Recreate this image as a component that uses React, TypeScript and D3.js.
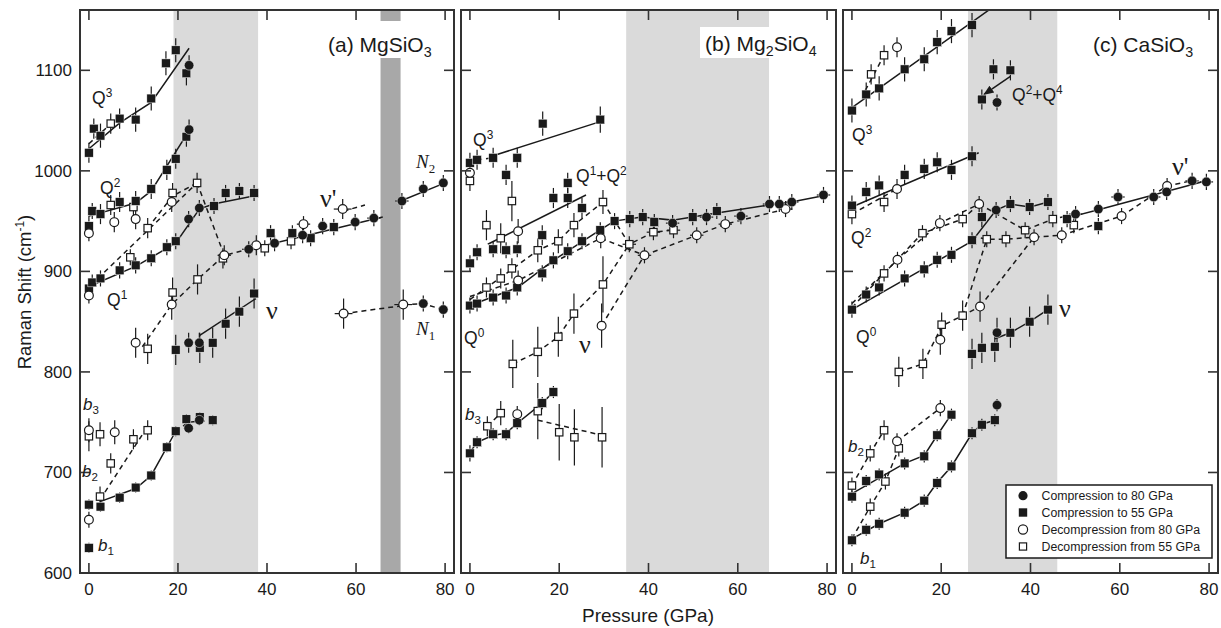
import React from 'react';
import * as d3 from 'd3';

type Pt = number[]; // [pressure, shift, yErr, xErr?]
type Line = number[][];

// ---------- Panel (a) MgSiO3 ----------
const aCompSq: Pt[] = [
  [0, 1018, 10], [1.1, 1042, 10], [2.6, 1035, 12], [6.9, 1052, 10], [10.5, 1051, 12], [14, 1072, 12], [17.3, 1107, 12], [19.5, 1120, 12], [21.9, 1097, 12],
  [0, 945, 10], [0.75, 960, 8], [2.6, 957, 10], [6.9, 969, 10], [10.5, 970, 10], [14, 982, 10], [17.5, 1001, 10], [19.5, 1012, 10], [21.9, 1034, 10],
  [0, 883, 8], [0.75, 889, 8], [2.6, 893, 8], [6.9, 901, 8], [10.5, 906, 8], [14, 913, 8], [17.5, 924, 8], [19.5, 930, 8], [28.1, 965, 8], [30.7, 978, 8], [33.8, 980, 8], [37.1, 978, 8],
  [40.8, 938, 8], [45.7, 938, 8], [49.8, 933, 8], [55, 944, 8],
  [19.5, 822, 15], [24.9, 824, 15], [27.8, 829, 15], [30.7, 848, 15], [33.8, 860, 15], [37.1, 878, 15],
  [0, 668, 5], [2.6, 666, 5], [6.9, 675, 5], [10.5, 685, 5], [14, 697, 5], [17.5, 725, 5], [19.5, 741, 5], [21.9, 753, 5], [24.9, 755, 5], [27.8, 752, 5],
  [0, 625, 5],
];
const aCompCirc: Pt[] = [
  [22.5, 1105, 10], [22.5, 1041, 10], [22.4, 952, 8], [24.8, 963, 8], [35.9, 922, 8, 1.5], [41.7, 928, 8], [48, 936, 8], [52.5, 945, 8],
  [59.8, 949, 8], [64, 953, 8, 1.5], [70.3, 970, 8, 1.5], [75.1, 982, 8], [79.6, 988, 8], [75.1, 868, 8], [79.6, 862, 8],
  [22.4, 829, 10], [24.8, 829, 10], [22.4, 744, 5], [24.8, 752, 5],
];
const aDecCirc: Pt[] = [
  [0, 938, 8], [5.7, 949, 10], [10.5, 952, 10], [18.6, 969, 10], [0, 876, 8], [18.6, 867, 15], [30.4, 916, 10, 1.5], [37.6, 926, 10, 1.5],
  [48.2, 947, 8, 1.5], [57, 962, 10, 2], [57.2, 858, 15, 2], [70.6, 867, 15, 2], [10.5, 829, 15], [0, 742, 12], [5.8, 740, 12], [0, 653, 8],
];
const aDecSq: Pt[] = [
  [4.9, 1047, 10], [4.9, 966, 10], [10, 964, 10], [13.2, 943, 10], [18.8, 978, 10], [24.3, 988, 10], [30.1, 913, 10], [9.3, 914, 8],
  [18.8, 879, 15], [24.4, 892, 15], [39.5, 923, 8], [45.4, 930, 8], [13.2, 823, 15],
  [0, 736, 15], [2.5, 738, 12], [10, 733, 10], [13.2, 742, 10], [2.5, 676, 10], [4.9, 709, 10],
];
const aSolid: Line[] = [
  [[0, 1022], [7, 1048], [14, 1068], [22.5, 1122]],
  [[0, 955], [10.5, 968], [14, 980], [22.5, 1040]],
  [[0, 885], [10.5, 905], [19.5, 928], [24.8, 962]],
  [[24.8, 962], [28, 967], [38, 976]],
  [[24.8, 836], [37.5, 873]],
  [[35, 921], [50, 937], [66, 954]],
  [[70, 970], [80, 988]],
  [[2.5, 671], [10.5, 684], [14, 697], [19.5, 741]],
];
const aDashed: Line[] = [
  [[2, 893], [24.3, 988]],
  [[13.2, 943], [18.8, 975], [24.3, 988]],
  [[24.3, 988], [30.4, 916], [35.9, 922]],
  [[12, 825], [18.6, 867], [24.4, 892], [30.4, 916]],
  [[57.2, 960], [62, 966]],
  [[57.2, 858], [70.6, 866]],
  [[70.6, 867], [75.1, 867.8], [79.6, 862]],
  [[2.5, 673], [12.5, 741]],
  [[19.5, 741], [22.4, 750], [28, 752]],
  [[0, 1027], [5, 1047]],
];

// ---------- Panel (b) Mg2SiO4 ----------
const bCompSq: Pt[] = [
  [0, 1008, 10], [1.6, 1011, 10], [5.2, 1013, 10], [10.6, 1013, 10], [8.1, 996, 10], [16.3, 1047, 12], [29.2, 1051, 13],
  [18.7, 973, 10], [21.9, 988, 10], [21.9, 973, 10], [25.1, 963, 10], [16.2, 936, 10], [10.6, 922, 8], [8.1, 921, 8], [5.2, 922, 8], [1.6, 919, 8], [0, 908, 8],
  [0, 866, 8], [1.6, 868, 8], [5.2, 874, 8], [8.1, 876, 8], [10.6, 884, 8], [16.2, 898, 8], [18.7, 911, 8], [21.9, 920, 8], [25.1, 930, 8], [29.2, 941, 8],
  [32.4, 950, 8], [35.8, 952, 8], [38.7, 954, 8], [41.3, 949, 8], [49.9, 954, 8], [55.3, 960, 8],
  [0, 719, 8], [1.6, 730, 6], [5.2, 738, 6], [8.1, 738, 6], [10.6, 749, 6], [16.2, 769, 6], [18.7, 780, 6],
];
const bCompCirc: Pt[] = [
  [45.4, 948, 8, 1.5], [53, 954, 8, 1.5], [60.7, 955, 8, 1.5], [67.1, 967, 8, 1.5], [69.3, 967, 8], [72.1, 969, 8, 1.5], [79.2, 976, 8, 1.5],
];
const bDecCirc: Pt[] = [
  [0, 998, 8], [10.8, 940, 12], [10.8, 891, 10], [29.3, 933, 10], [39.1, 916, 8, 1.5], [50.8, 936, 8, 1.5], [57.2, 947, 8, 1.5],
  [70.7, 962, 8, 1.5], [29.5, 846, 22], [10.6, 758, 8],
];
const bDecSq: Pt[] = [
  [0, 990, 10], [3.7, 946, 15], [6.9, 933, 15], [9.4, 970, 20], [3.7, 884, 10], [6.9, 893, 10], [9.4, 903, 10], [15.2, 921, 12],
  [19.8, 930, 12], [23.3, 946, 12], [29.8, 969, 12], [35.7, 927, 8, 1.5], [41.1, 939, 8, 1.5], [45.6, 941, 8, 1.5],
  [29.8, 887, 28], [23.3, 858, 20], [19.8, 835, 20], [15.2, 820, 25], [9.6, 808, 24],
  [3.9, 746, 10], [6.9, 759, 12], [15.2, 761, 28], [20, 740, 28], [23.4, 735, 28], [29.6, 735, 30],
];
const bSolid: Line[] = [
  [[5.2, 1015], [29.2, 1049]],
  [[4, 927], [26, 976]],
  [[0, 866], [10.7, 884], [18.7, 911], [29.1, 941], [32.3, 950], [38.5, 954], [45.4, 951], [55.3, 958], [67, 966], [72, 969], [80, 976]],
  [[0, 720], [1.6, 730], [5.2, 737], [8.1, 739], [10.6, 749], [16.2, 769], [18.7, 780]],
];
const bDashed: Line[] = [
  [[0, 872], [9.4, 902], [15.2, 921], [19.8, 930], [23.3, 946], [29.8, 969]],
  [[29.8, 969], [35.7, 927], [41.1, 939], [45.6, 941]],
  [[0, 875], [10.8, 891], [29.3, 933], [39.1, 916]],
  [[39.1, 916], [50.8, 936], [57.2, 947], [70.7, 962]],
  [[9.6, 808], [15.2, 820], [19.8, 835], [23.3, 858], [29.8, 887], [35.7, 927]],
  [[29.5, 846], [39.1, 916]],
  [[15.2, 752], [29.6, 737]],
  [[3.9, 746], [6.9, 759]],
  [[1.6, 1011], [5.2, 1013]],
];

// ---------- Panel (c) CaSiO3 ----------
const cCompSq: Pt[] = [
  [0, 1060, 12], [3.2, 1076, 12], [6.1, 1082, 12], [11.8, 1101, 12], [16.2, 1111, 12], [19.1, 1128, 12], [22.3, 1139, 12], [26.9, 1145, 12],
  [31.7, 1101, 10], [35.5, 1100, 10], [29.1, 1071, 10],
  [0, 965.5, 10], [3.2, 979, 10], [6.1, 985.5, 10], [11.8, 996, 10], [16.2, 1002, 10], [19.1, 1008.5, 10], [22.3, 1001, 10], [26.9, 1014.5, 10],
  [0, 862, 8], [3.2, 877, 8], [6.1, 884, 8], [11.8, 893, 8], [16.2, 902, 8], [19.1, 911.5, 8], [22.3, 916.5, 8], [26.9, 931, 8], [29.1, 954, 10],
  [35.5, 967, 8], [39.8, 964, 8], [43.9, 969, 8], [48.2, 952, 8], [55.2, 945, 8],
  [26.9, 818, 15], [29.1, 824, 15], [32, 825, 15], [35.5, 839, 15], [39.8, 850, 15], [43.9, 862, 15],
  [0, 676, 6], [3.2, 691.5, 6], [6.1, 698, 6], [11.8, 709, 6], [16.2, 716, 6], [19.1, 737, 6], [22.3, 757.5, 6],
  [0, 632.5, 6], [3.2, 643, 6], [6.1, 649, 6], [11.8, 660, 6], [16.2, 672, 6], [19.1, 689.5, 6], [22.3, 706, 6], [26.9, 739, 6], [29.1, 747.5, 6], [32, 752, 6],
];
const cCompCirc: Pt[] = [
  [32.5, 1068, 8], [32.3, 961, 8], [50.1, 957, 8, 1.5], [55.2, 962, 8], [59.6, 974, 8, 1.5], [67.6, 974, 8, 1.5], [70.5, 979, 8],
  [76.2, 990, 8, 1.5], [79.4, 989, 8, 1.5], [32.5, 839, 15], [32.5, 767, 6],
];
const cDecCirc: Pt[] = [
  [10.1, 1123, 10], [10.1, 982, 10], [10.2, 911.5, 8], [19.7, 948, 8], [28.5, 967, 8], [40.8, 934, 8], [47, 936, 8], [60.4, 955, 8], [70.6, 985, 8],
  [19.8, 832, 15], [28.7, 865, 15], [10.1, 731, 8], [19.8, 764, 8],
];
const cDecSq: Pt[] = [
  [4.3, 1096, 10], [7.2, 1115, 10], [0, 957, 10], [7.2, 969, 10], [7.2, 898, 8], [15.8, 938, 8], [24.8, 952, 8], [30.2, 932, 8], [34.5, 932, 8],
  [38.8, 941, 8], [45, 952, 8], [49.7, 946, 8], [10.5, 800, 15], [15.9, 808, 15], [20.1, 847, 12], [24.8, 856, 15],
  [0, 687, 8], [4.1, 719, 8], [7.2, 742, 10], [10.5, 724, 8], [4.1, 666, 8], [7.5, 691, 8],
];
const cSolid: Line[] = [
  [[0, 1063], [31, 1161]],
  [[0, 964], [28.4, 1018]],
  [[0, 862], [26.9, 930], [32.3, 961]],
  [[32.3, 961], [35.4, 967], [39.9, 964], [44, 969]],
  [[48, 953], [55, 961], [70, 979], [80, 991]],
  [[32, 833], [35.5, 839], [39.8, 850], [43.9, 862]],
  [[0, 679], [11.8, 709], [16.2, 717], [19.1, 737], [22.3, 758]],
  [[0, 634], [6.1, 649], [11.8, 660], [16.2, 672], [19.1, 690], [22.3, 706], [26.9, 739], [29.1, 748], [32, 752]],
];
const cArrow: Line = [[35.5, 1094], [29.6, 1076]];
const cDashed: Line[] = [
  [[0, 957], [10.1, 982]],
  [[3, 1080], [7.2, 1115]],
  [[0, 868], [10.2, 911.5], [19.7, 948], [28.5, 967]],
  [[0, 864], [7.2, 898], [15.8, 938], [24.8, 952], [28.5, 967]],
  [[28.5, 967], [38.8, 941], [45, 952], [50, 957]],
  [[26.9, 935], [30.2, 932], [34.5, 932], [40.8, 934], [47, 936], [60.4, 955], [70.6, 985], [76, 990]],
  [[10.5, 800], [15.9, 808], [20.2, 846], [24.8, 856], [28.7, 865]],
  [[24.8, 856], [30.2, 932]],
  [[28.7, 865], [40.8, 934]],
  [[0, 687], [4.1, 719], [7.2, 742]],
  [[10.1, 731], [19.8, 764]],
  [[0, 634], [4.1, 666], [7.5, 691], [10.5, 724]],
];

const xTicks = [0, 20, 40, 60, 80];
const yTicks = [600, 700, 800, 900, 1000, 1100];
const legendItems = ['Compression to 80 GPa', 'Compression to 55 GPa', 'Decompression from 80 GPa', 'Decompression from 55 GPa'];

const SANS = "'Liberation Sans', Arial, Helvetica, sans-serif";
const SERIF = "'Liberation Serif', 'Times New Roman', serif";
const INK = '#1a1a1a';

type Part = [string, 'n' | 'sup' | 'sub'];
function Rich({ x, y, parts, size, family = SANS, italic = false }: { x: number; y: number; parts: Part[]; size: number; family?: string; italic?: boolean }) {
  let cur = 0;
  return (
    <text x={x} y={y} fontSize={size} fontFamily={family} fill={INK} fontStyle={italic ? 'italic' : 'normal'}>
      {parts.map((p, i) => {
        const target = p[1] === 'sup' ? -0.42 * size : p[1] === 'sub' ? 0.25 * size : 0;
        const dy = target - cur;
        cur = target;
        return (
          <tspan key={i} dy={dy} fontSize={p[1] === 'n' ? size : size * 0.68} fontStyle={p[1] === 'sub' && italic ? 'normal' : undefined}>
            {p[0]}
          </tspan>
        );
      })}
    </text>
  );
}

const Y0 = 573, Y1 = 10;
const yScale = d3.scaleLinear().domain([600, 1160]).range([Y0, Y1]);

const panels = [
  {
    key: 'a', left: 80, right: 454, compSq: aCompSq, compCirc: aCompCirc, decCirc: aDecCirc, decSq: aDecSq, solid: aSolid, dashed: aDashed,
    shades: [[19, 38, '#dadada'], [65.5, 70, '#a8a8a8']] as [number, number, string][],
    title: { x: 328, y: 52, parts: [['(a) MgSiO', 'n'], ['3', 'sub']] as Part[], box: [320, 21, 134, 37] },
  },
  {
    key: 'b', left: 461, right: 836, compSq: bCompSq, compCirc: bCompCirc, decCirc: bDecCirc, decSq: bDecSq, solid: bSolid, dashed: bDashed,
    shades: [[35, 67, '#dadada']] as [number, number, string][],
    title: { x: 705, y: 51, parts: [['(b) Mg', 'n'], ['2', 'sub'], ['SiO', 'n'], ['4', 'sub']] as Part[], box: [700, 27, 135, 31] },
  },
  {
    key: 'c', left: 843, right: 1218, compSq: cCompSq, compCirc: cCompCirc, decCirc: cDecCirc, decSq: cDecSq, solid: cSolid, dashed: cDashed,
    shades: [[26, 46, '#dadada']] as [number, number, string][],
    title: { x: 1093, y: 52, parts: [['(c) CaSiO', 'n'], ['3', 'sub']] as Part[], box: [1088, 27, 120, 31] },
  },
];

function Panel({ p }: { p: typeof panels[number] }) {
  const x = d3.scaleLinear().domain([-2, 82]).range([p.left, p.right]);
  const y = yScale;
  const line = d3.line<number[]>().x(d => x(d[0])).y(d => y(d[1]));
  const clipId = `clip-${p.key}`;
  const errs = (pts: Pt[]) =>
    pts.map((d, i) => (
      <g key={i} stroke={INK} strokeWidth={1.2}>
        <line x1={x(d[0])} x2={x(d[0])} y1={y(d[1] - d[2])} y2={y(d[1] + d[2])} />
        {d[3] ? <line x1={x(d[0] - d[3])} x2={x(d[0] + d[3])} y1={y(d[1])} y2={y(d[1])} /> : null}
      </g>
    ));
  return (
    <g>
      <defs>
        <clipPath id={clipId}>
          <rect x={p.left} y={Y1} width={p.right - p.left} height={Y0 - Y1} />
        </clipPath>
      </defs>
      {p.shades.map((s, i) => (
        <rect key={i} x={x(s[0])} y={Y1} width={x(s[1]) - x(s[0])} height={Y0 - Y1} fill={s[2]} />
      ))}
      <rect x={p.title.box[0]} y={p.title.box[1]} width={p.title.box[2]} height={p.title.box[3]} fill="#fff" />
      <g clipPath={`url(#${clipId})`}>
        {p.solid.map((l, i) => (
          <path key={'s' + i} d={line(l) || ''} fill="none" stroke={INK} strokeWidth={1.5} />
        ))}
        {p.dashed.map((l, i) => (
          <path key={'d' + i} d={line(l) || ''} fill="none" stroke={INK} strokeWidth={1.5} strokeDasharray="5,4" />
        ))}
        {p.key === 'c' ? (
          <path d={line(cArrow) || ''} fill="none" stroke={INK} strokeWidth={1.5} markerEnd="url(#arrowhead)" />
        ) : null}
        {errs(p.decSq)}
        {errs(p.decCirc)}
        {errs(p.compSq)}
        {errs(p.compCirc)}
        {p.decSq.map((d, i) => (
          <rect key={'ds' + i} x={x(d[0]) - 3.7} y={y(d[1]) - 3.7} width={7.4} height={7.4} fill="#fff" stroke={INK} strokeWidth={1.2} />
        ))}
        {p.compSq.map((d, i) => (
          <rect key={'cs' + i} x={x(d[0]) - 4.4} y={y(d[1]) - 4.4} width={8.8} height={8.8} fill={INK} stroke="#fff" strokeWidth={0.5} />
        ))}
        {p.decCirc.map((d, i) => (
          <circle key={'dc' + i} cx={x(d[0])} cy={y(d[1])} r={4.4} fill="#fff" stroke={INK} strokeWidth={1.2} />
        ))}
        {p.compCirc.map((d, i) => (
          <circle key={'cc' + i} cx={x(d[0])} cy={y(d[1])} r={4.8} fill={INK} stroke="#fff" strokeWidth={0.5} />
        ))}
      </g>
      <rect x={p.left} y={Y1} width={p.right - p.left} height={Y0 - Y1} fill="none" stroke="#333" strokeWidth={2} />
      {xTicks.map(t => (
        <g key={'xt' + t} stroke="#333" strokeWidth={1.6}>
          <line x1={x(t)} x2={x(t)} y1={Y0} y2={Y0 - 10} />
          <line x1={x(t)} x2={x(t)} y1={Y1} y2={Y1 + 10} />
        </g>
      ))}
      {yTicks.map(t => (
        <g key={'yt' + t} stroke="#333" strokeWidth={1.6}>
          <line x1={p.left} x2={p.left + 10} y1={y(t)} y2={y(t)} />
          <line x1={p.right} x2={p.right - 10} y1={y(t)} y2={y(t)} />
        </g>
      ))}
      {xTicks.map(t => (
        <text key={'xl' + t} x={x(t)} y={595} textAnchor="middle" fontSize={17} fontFamily={SANS} fill={INK}>
          {t}
        </text>
      ))}
      <Rich x={p.title.x} y={p.title.y} parts={p.title.parts} size={21} />
    </g>
  );
}

export default function App() {
  const legendY = [495.7, 512.5, 529.5, 546.5];
  return (
    <svg width={1221} height={628} style={{ position: 'absolute', left: 0, top: 0, background: '#fff' }}>
      <defs>
        <marker id="arrowhead" viewBox="0 0 10 10" refX="9" refY="5" markerWidth="7" markerHeight="7" orient="auto">
          <path d="M0,1 L10,5 L0,9 z" fill={INK} />
        </marker>
      </defs>
      <rect width={1221} height={628} fill="#fff" />
      {panels.map(p => (
        <Panel key={p.key} p={p} />
      ))}
      {yTicks.map(t => (
        <text key={'yl' + t} x={72} y={yScale(t) + 6} textAnchor="end" fontSize={17} fontFamily={SANS} fill={INK}>
          {t}
        </text>
      ))}
      <text transform="translate(31,292) rotate(-90)" textAnchor="middle" fontSize={18.5} fontFamily={SANS} fill={INK}>
        Raman Shift (cm<tspan dy={-7} fontSize={12}>-1</tspan><tspan dy={7}>)</tspan>
      </text>
      <text x={648} y={622} textAnchor="middle" fontSize={19} fontFamily={SANS} fill={INK}>
        Pressure (GPa)
      </text>

      {/* panel (a) labels */}
      <Rich x={92} y={104} parts={[['Q', 'n'], ['3', 'sup']]} size={17.5} />
      <Rich x={100} y={194} parts={[['Q', 'n'], ['2', 'sup']]} size={17.5} />
      <Rich x={107} y={306} parts={[['Q', 'n'], ['1', 'sup']]} size={17.5} />
      <text x={266} y={319} fontSize={26} fontFamily={SERIF} fill={INK}>ν</text>
      <text x={320} y={207} fontSize={26} fontFamily={SERIF} fill={INK}>ν'</text>
      <Rich x={416} y={168} parts={[['N', 'n'], ['2', 'sub']]} size={19} family={SERIF} italic />
      <Rich x={416} y={335} parts={[['N', 'n'], ['1', 'sub']]} size={19} family={SERIF} italic />
      <Rich x={83} y={410} parts={[['b', 'n'], ['3', 'sub']]} size={17} italic />
      <Rich x={82} y={477} parts={[['b', 'n'], ['2', 'sub']]} size={17} italic />
      <Rich x={98} y={551} parts={[['b', 'n'], ['1', 'sub']]} size={17} italic />

      {/* panel (b) labels */}
      <Rich x={473} y={146} parts={[['Q', 'n'], ['3', 'sup']]} size={17.5} />
      <Rich x={576} y={182} parts={[['Q', 'n'], ['1', 'sup'], ['+Q', 'n'], ['2', 'sup']]} size={17.5} />
      <Rich x={464} y={344} parts={[['Q', 'n'], ['0', 'sup']]} size={17.5} />
      <text x={579} y={353} fontSize={26} fontFamily={SERIF} fill={INK}>ν</text>
      <Rich x={465} y={420} parts={[['b', 'n'], ['3', 'sub']]} size={17} italic />

      {/* panel (c) labels */}
      <Rich x={852} y={141} parts={[['Q', 'n'], ['3', 'sup']]} size={17.5} />
      <Rich x={1012} y={101} parts={[['Q', 'n'], ['2', 'sup'], ['+Q', 'n'], ['4', 'sup']]} size={17.5} />
      <Rich x={851} y={244} parts={[['Q', 'n'], ['2', 'sup']]} size={17.5} />
      <text x={1172} y={175} fontSize={26} fontFamily={SERIF} fill={INK}>ν'</text>
      <Rich x={856} y={343} parts={[['Q', 'n'], ['0', 'sup']]} size={17.5} />
      <text x={1059} y={317} fontSize={26} fontFamily={SERIF} fill={INK}>ν</text>
      <Rich x={848} y={452} parts={[['b', 'n'], ['2', 'sub']]} size={17} italic />
      <Rich x={860} y={564} parts={[['b', 'n'], ['1', 'sub']]} size={17} italic />

      {/* legend */}
      <rect x={1006} y={485} width={206} height={73} fill="#fff" stroke={INK} strokeWidth={1.5} />
      {legendItems.map((t, i) => (
        <g key={t}>
          {i === 0 ? <circle cx={1023} cy={legendY[i]} r={4.6} fill={INK} /> : null}
          {i === 1 ? <rect x={1018.8} y={legendY[i] - 4.2} width={8.4} height={8.4} fill={INK} /> : null}
          {i === 2 ? <circle cx={1023} cy={legendY[i]} r={4.6} fill="#fff" stroke={INK} strokeWidth={1.2} /> : null}
          {i === 3 ? <rect x={1019.4} y={legendY[i] - 3.6} width={7.2} height={7.2} fill="#fff" stroke={INK} strokeWidth={1.2} /> : null}
          <text x={1041.5} y={legendY[i] + 4.3} fontSize={12.3} fontFamily={SANS} fill={INK}>
            {t}
          </text>
        </g>
      ))}
    </svg>
  );
}
